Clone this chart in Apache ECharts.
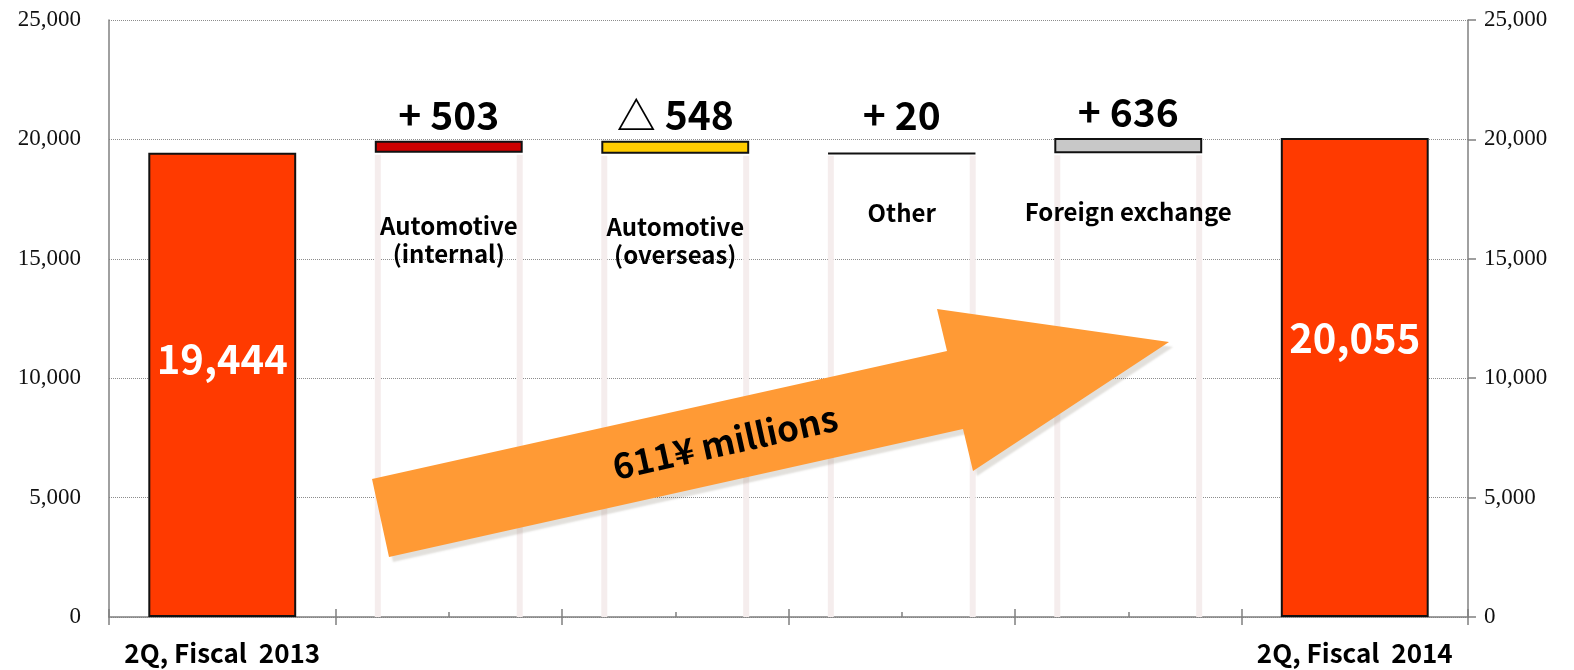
<!DOCTYPE html>
<html>
<head>
<meta charset="utf-8">
<script src="https://cdn.jsdelivr.net/npm/echarts@6/dist/echarts.min.js"></script>
<style>
html,body{margin:0;padding:0;background:#fff;}
#chart{width:1574px;height:670px;}
</style>
</head>
<body>
<div id="chart"></div>
<script>
// ---- data ----
const categories = ['2Q, Fiscal  2013', 'Automotive\n(internal)', 'Automotive\n(overseas)', 'Other', 'Foreign exchange', '2Q, Fiscal  2014'];
const changes = [19444, 503, -548, 20, 636, 20055];
const isTotal = [true, false, false, false, false, true];
const valueLabels = ['19,444', '+ 503', '△ 548', '+ 20', '+ 636', '20,055'];
const barColors = ['#FF3A00', '#CC0000', '#FFCC00', '#000000', '#C8C8C8', '#FF3A00'];
const arrowText = '611¥ millions';
const yMin = 0, yMax = 25000, yStep = 5000;

// ---- derived waterfall ----
const bases = [], heights = [];
let running = 0;
changes.forEach((v, i) => {
  if (isTotal[i]) { bases.push(0); heights.push(v); running = v; }
  else if (v >= 0) { bases.push(running); heights.push(v); running += v; }
  else { bases.push(running + v); heights.push(-v); running += v; }
});

const JP = '"Noto Sans CJK JP", "Noto Sans", sans-serif';
const chart = echarts.init(document.getElementById('chart'));

const barData = heights.map((h, i) => {
  const item = { value: h, itemStyle: { color: barColors[i] } };
  if (isTotal[i]) {
    item.label = { show: true, position: 'inside', offset: [0, i === 0 ? -26 : -40],
      color: '#fff', fontSize: 40, fontWeight: 'bold', fontFamily: JP,
      formatter: p => valueLabels[p.dataIndex] };
  } else {
    item.label = { show: true, position: 'top', distance: 6, offset: [0, changes[i] === 20 ? -12 : 0],
      color: '#000', fontSize: 39, fontWeight: 'bold', fontFamily: JP,
      formatter: p => valueLabels[p.dataIndex] };
  }
  return item;
});

const stripeData = [];
bases.forEach((b, i) => { if (!isTotal[i]) stripeData.push([i, b]); });

const BW = 0.653;
const option = {
  animation: false,
  backgroundColor: '#fff',
  grid: { left: 109, right: 106, top: 20, bottom: 53 },
  xAxis: [
    { type: 'category', data: categories, position: 'bottom',
      axisLine: { show: true, lineStyle: { color: '#808080', width: 1.5 } },
      axisTick: { show: true, length: 8, lineStyle: { color: '#808080', width: 1.5 } },
      axisLabel: { interval: 0, margin: 23, color: '#000', fontSize: 26, fontWeight: 'bold', fontFamily: JP,
        formatter: (v, i) => isTotal[i] ? v : '' } },
    { type: 'category', data: categories, position: 'bottom',
      axisLine: { show: false }, axisLabel: { show: false },
      axisTick: { show: true, inside: true, length: 8, lineStyle: { color: '#808080', width: 1.5 } } },
    { type: 'category', data: categories, position: 'bottom',
      axisLine: { show: false }, axisLabel: { show: false },
      axisTick: { show: true, inside: true, alignWithLabel: true, length: 5, lineStyle: { color: '#808080', width: 1.5 } } }
  ],
  yAxis: [
    { type: 'value', min: yMin, max: yMax, interval: yStep, position: 'left',
      axisLine: { show: true, lineStyle: { color: '#808080', width: 1.5 } },
      axisTick: { show: false },
      splitLine: { show: true, lineStyle: { color: '#8c8c8c', type: [1, 1], width: 1 } },
      axisLabel: { margin: 28, color: '#111', fontSize: 23, fontFamily: '"Liberation Serif", "Times New Roman", serif',
        formatter: v => v.toLocaleString('en-US') } },
    { type: 'value', min: yMin, max: yMax, interval: yStep, position: 'right',
      axisLine: { show: true, lineStyle: { color: '#808080', width: 1.5 } },
      axisTick: { show: true, length: 8, lineStyle: { color: '#808080', width: 1.5 } },
      splitLine: { show: false },
      axisLabel: { margin: 16, color: '#111', fontSize: 23, fontFamily: '"Liberation Serif", "Times New Roman", serif',
        formatter: v => v.toLocaleString('en-US') } }
  ],
  series: [
    { type: 'bar', stack: 'w', barWidth: (BW * 100) + '%', data: bases,
      itemStyle: { color: 'transparent' }, silent: true },
    { type: 'bar', stack: 'w', barWidth: (BW * 100) + '%', data: barData,
      itemStyle: { borderColor: '#111', borderWidth: 2 } },
    { type: 'custom', data: stripeData, z: 3,
      renderItem: (params, api) => {
        const i = api.value(0), b = api.value(1);
        const p0 = api.coord([i, 0]), p1 = api.coord([i, b]);
        const bw = api.size([1, 0])[0] * BW;
        const left = p0[0] - bw / 2, right = p0[0] + bw / 2;
        const lines = categories[i].split('\n').length;
        const c = '#F5EDED';
        return { type: 'group', children: [
          { type: 'rect', shape: { x: left, y: p1[1] + 2, width: 6, height: p0[1] - p1[1] - 2 }, style: { fill: c } },
          { type: 'rect', shape: { x: right - 6, y: p1[1] + 2, width: 6, height: p0[1] - p1[1] - 2 }, style: { fill: c } },
          { type: 'text', style: { text: categories[i], x: p0[0], y: p1[1] + 31 + 28 * lines,
              align: 'center', verticalAlign: 'middle', lineHeight: 28,
              font: 'bold 24px ' + JP, fill: '#000' } }
        ] };
      } }
  ],
  graphic: [
    { type: 'polygon', z: 10,
      shape: { points: [[372, 479], [947, 351], [937, 309], [1169, 342], [973, 471], [963, 429], [389, 557]] },
      style: { fill: '#FF9A35', shadowColor: 'rgba(110,100,80,0.2)', shadowOffsetX: 4, shadowOffsetY: 5, shadowBlur: 2 } },
    { type: 'text', z: 11, x: 725, y: 442, rotation: 0.219,
      style: { text: arrowText, font: 'bold 35px ' + JP, fill: '#000', align: 'center', verticalAlign: 'middle' } }
  ]
};
chart.setOption(option);
</script>
</body>
</html>
